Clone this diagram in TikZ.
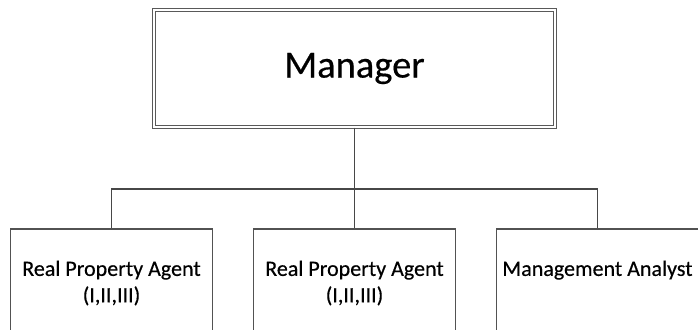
\documentclass[tikz,border=0pt]{standalone}
\usepackage{fontspec}
\setmainfont{Carlito}[FakeBold=0.4]
\usetikzlibrary{positioning}
\begin{document}
\begin{tikzpicture}[x=1pt, y=-1pt,
  every node/.style={font=\fontsize{22}{26.5}\selectfont},
  link/.style={draw=black!72, line width=1.5pt},
  mgr/.style={draw=black!65, double, double distance=2.6pt, line width=1pt, minimum width=401pt, minimum height=117pt, inner sep=0pt, font=\fontsize{38.5}{45}\selectfont},
  post/.style={draw=black!68, line width=1.2pt, minimum width=202.5pt, minimum height=140pt, inner sep=0pt},
  lbl/.style={align=center, anchor=north, inner sep=0pt}]
\useasboundingbox (0,0) rectangle (698,329);
% top box
\node[mgr] (mgr) at (354.5,68.5) {Manager};
% the three posts
\node[post] (agentA) at (111.5,299) {};
\node[post] (agentB) at (354.5,299) {};
\node[post] (analyst) at (597.5,299) {};
\node[lbl] (agentAtxt) at ([yshift=-32pt]agentA.north) {Real Property Agent\\(I,II,III)};
\node[lbl] (agentBtxt) at ([yshift=-32pt]agentB.north) {Real Property Agent\\(I,II,III)};
\node[lbl] (analysttxt) at ([yshift=-32pt]analyst.north) {Management Analyst};
% connectors
\coordinate (bus) at (354.5,189);
\draw[link] (mgr.south) -- (agentB.north);
\draw[link] (agentA.north) |- (bus) -| (analyst.north);
\end{tikzpicture}
\end{document}
